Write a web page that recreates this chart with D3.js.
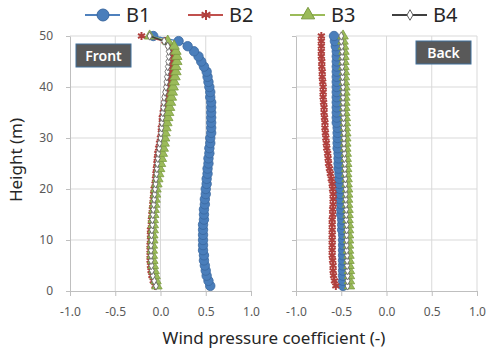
<!DOCTYPE html>
<html>
<head>
<meta charset="utf-8">
<script src="https://cdn.jsdelivr.net/npm/d3@7"></script>
<style>
  body { margin: 0; background: #fff; }
  svg { font-family: "Noto Sans", "Open Sans", sans-serif; }
</style>
</head>
<body>
<svg id="chart" width="486" height="351"></svg>
<script>
// heights (m), one sample per metre
const heights = d3.range(1, 51);

const frontB1 = [0.55,0.53,0.51,0.50,0.49,0.48,0.48,0.47,0.47,0.47,
  0.47,0.47,0.47,0.48,0.48,0.48,0.49,0.49,0.50,0.50,
  0.51,0.51,0.52,0.52,0.53,0.53,0.54,0.54,0.55,0.55,
  0.56,0.56,0.56,0.56,0.56,0.56,0.56,0.55,0.55,0.54,
  0.53,0.52,0.51,0.48,0.45,0.42,0.37,0.30,0.20,-0.08];
const frontB2 = [-0.06,-0.08,-0.095,-0.105,-0.11,-0.115,-0.115,-0.115,-0.115,-0.11,
  -0.11,-0.11,-0.10,-0.10,-0.095,-0.09,-0.085,-0.08,-0.075,-0.07,
  -0.06,-0.055,-0.05,-0.045,-0.04,-0.035,-0.03,-0.02,-0.01,0.00,
  0.01,0.01,0.02,0.02,0.03,0.04,0.05,0.06,0.07,0.08,
  0.09,0.10,0.11,0.12,0.12,0.13,0.12,0.10,0.05,-0.21];
const frontB3 = [-0.04,-0.05,-0.06,-0.07,-0.08,-0.085,-0.09,-0.09,-0.09,-0.085,
  -0.085,-0.08,-0.08,-0.08,-0.075,-0.07,-0.065,-0.06,-0.055,-0.05,
  -0.04,-0.03,-0.02,-0.01,0.00,0.01,0.02,0.03,0.04,0.045,
  0.05,0.06,0.07,0.08,0.09,0.10,0.11,0.12,0.13,0.14,
  0.15,0.16,0.17,0.17,0.18,0.18,0.17,0.15,0.08,-0.12];
const frontB4 = [-0.05,-0.07,-0.085,-0.095,-0.10,-0.105,-0.105,-0.105,-0.105,-0.10,
  -0.10,-0.095,-0.09,-0.09,-0.085,-0.08,-0.075,-0.07,-0.065,-0.06,
  -0.055,-0.05,-0.045,-0.04,-0.035,-0.03,-0.025,-0.015,-0.01,0.00,
  0.005,0.01,0.015,0.02,0.025,0.03,0.035,0.04,0.05,0.06,
  0.065,0.07,0.075,0.08,0.085,0.09,0.09,0.08,0.04,-0.12];

const backB1 = [-0.48,-0.48,-0.48,-0.48,-0.48,-0.48,-0.48,-0.48,-0.48,-0.48,
  -0.48,-0.49,-0.49,-0.49,-0.50,-0.50,-0.50,-0.51,-0.51,-0.51,
  -0.52,-0.52,-0.52,-0.53,-0.53,-0.53,-0.53,-0.54,-0.54,-0.54,
  -0.54,-0.54,-0.55,-0.55,-0.55,-0.55,-0.55,-0.55,-0.55,-0.55,
  -0.55,-0.55,-0.55,-0.55,-0.55,-0.55,-0.55,-0.56,-0.57,-0.58];
const backB2 = [-0.56,-0.575,-0.585,-0.59,-0.59,-0.595,-0.60,-0.60,-0.60,-0.60,
  -0.60,-0.60,-0.60,-0.60,-0.595,-0.595,-0.59,-0.59,-0.59,-0.595,
  -0.60,-0.61,-0.62,-0.63,-0.64,-0.645,-0.65,-0.66,-0.665,-0.67,
  -0.675,-0.68,-0.68,-0.685,-0.69,-0.69,-0.695,-0.70,-0.70,-0.70,
  -0.705,-0.71,-0.71,-0.715,-0.715,-0.72,-0.72,-0.72,-0.72,-0.72];
const backB3 = [-0.41,-0.41,-0.41,-0.41,-0.415,-0.415,-0.415,-0.42,-0.42,-0.42,
  -0.42,-0.42,-0.42,-0.425,-0.425,-0.425,-0.43,-0.43,-0.43,-0.43,
  -0.435,-0.435,-0.44,-0.44,-0.44,-0.445,-0.445,-0.45,-0.45,-0.45,
  -0.45,-0.455,-0.455,-0.455,-0.46,-0.46,-0.46,-0.46,-0.46,-0.46,
  -0.465,-0.465,-0.465,-0.47,-0.47,-0.47,-0.47,-0.475,-0.48,-0.48];
const backB4 = [-0.43,-0.43,-0.43,-0.43,-0.435,-0.435,-0.435,-0.44,-0.44,-0.44,
  -0.44,-0.44,-0.44,-0.445,-0.445,-0.445,-0.45,-0.45,-0.45,-0.45,
  -0.455,-0.455,-0.46,-0.46,-0.46,-0.465,-0.465,-0.47,-0.47,-0.47,
  -0.47,-0.475,-0.475,-0.475,-0.48,-0.48,-0.48,-0.48,-0.48,-0.48,
  -0.485,-0.485,-0.485,-0.49,-0.49,-0.49,-0.49,-0.495,-0.50,-0.50];

const seriesNames = ['B1', 'B2', 'B3', 'B4'];
const xTicks = [-1.0, -0.5, 0.0, 0.5, 1.0];
const yTicks = [0, 10, 20, 30, 40, 50];

const styles = {
  B1: { color: '#4f81bd', symbol: d3.symbolCircle, size: 70, fill: '#4a7ebb', stroke: '#3a68a0' },
  B2: { color: '#c0504d', symbol: d3.symbolAsterisk, size: 45, fill: 'none', stroke: '#b0403d' },
  B3: { color: '#9bbb59', symbol: d3.symbolTriangle, size: 48, fill: '#9bbb59', stroke: '#7a9a40' },
  B4: { color: '#404040', symbol: d3.symbolDiamond, size: 20, fill: '#ffffff', stroke: '#606060' }
};

const panels = [
  { label: 'Front', range: [70, 251], data: [frontB1, frontB2, frontB3, frontB4], box: [76, 44], showY: true },
  { label: 'Back', range: [296, 477], data: [backB1, backB2, backB3, backB4], box: [416, 41], showY: false }
];

const fmt = d => d3.format('.1f')(d).replace('\u2212', '-');

const svg = d3.select('#chart');
const y = d3.scaleLinear().domain([0, 50]).range([291, 36]);

panels.forEach(p => {
  const x = d3.scaleLinear().domain([-1, 1]).range(p.range);
  const g = svg.append('g');

  // grid
  g.selectAll('.vg').data(xTicks.slice(1)).enter().append('line')
    .attr('x1', d => x(d)).attr('x2', d => x(d))
    .attr('y1', y(0)).attr('y2', y(50))
    .attr('stroke', '#d9d9d9').attr('stroke-width', 1);
  g.selectAll('.hg').data(yTicks.slice(1)).enter().append('line')
    .attr('x1', x(-1)).attr('x2', x(1))
    .attr('y1', d => y(d)).attr('y2', d => y(d))
    .attr('stroke', '#d9d9d9').attr('stroke-width', 1);

  // axes
  const xAxis = g.append('g').attr('transform', `translate(0,${y(0)})`)
    .call(d3.axisBottom(x).tickValues(xTicks).tickFormat(fmt).tickSizeInner(5).tickSizeOuter(0).tickPadding(11));
  const yAxis = g.append('g').attr('transform', `translate(${x(-1)},0)`)
    .call(d3.axisLeft(y).tickValues(yTicks).tickSizeInner(4).tickSizeOuter(0).tickPadding(13)
      .tickFormat(p.showY ? d3.format('d') : () => ''));
  [xAxis, yAxis].forEach(a => {
    a.selectAll('path, line').attr('stroke', '#bfbfbf');
    a.selectAll('text').attr('fill', '#595959').style('font-size', '12px')
      .style('font-family', '"Noto Sans", sans-serif');
  });

  // series
  p.data.forEach((vals, i) => {
    const st = styles[seriesNames[i]];
    const pts = heights.map((h, k) => ({ h: h, v: vals[k] }));
    const line = d3.line().x(d => x(d.v)).y(d => y(d.h));
    g.append('path').datum(pts)
      .attr('d', line).attr('fill', 'none')
      .attr('stroke', st.color).attr('stroke-width', 1.5);
    g.selectAll('.m' + i).data(pts).enter().append('path')
      .attr('transform', d => `translate(${x(d.v)},${y(d.h)})`)
      .attr('d', d3.symbol().type(st.symbol).size(st.size))
      .attr('fill', st.fill).attr('stroke', st.stroke)
      .attr('stroke-width', st.fill === 'none' ? 2 : 0.8);
  });

  // panel label box
  const bx = g.append('g').attr('transform', `translate(${p.box[0]},${p.box[1]})`);
  bx.append('rect').attr('width', 55).attr('height', 23)
    .attr('fill', '#595959').attr('stroke', '#41719c').attr('stroke-width', 1);
  bx.append('text').attr('x', 27.5).attr('y', 16.5).attr('text-anchor', 'middle')
    .attr('fill', '#ffffff').style('font-size', '14px').style('font-weight', '600')
    .text(p.label);
});

// axis titles
svg.append('text').attr('transform', 'translate(22,160) rotate(-90)')
  .attr('text-anchor', 'middle').attr('fill', '#262626').style('font-size', '17px')
  .text('Height (m)');
svg.append('text').attr('x', 274).attr('y', 344)
  .attr('text-anchor', 'middle').attr('fill', '#262626').style('font-size', '17px')
  .text('Wind pressure coefficient (-)');

// legend
const legendX = [85, 188, 290, 392];
seriesNames.forEach((name, i) => {
  const st = styles[name];
  const lg = svg.append('g').attr('transform', `translate(${legendX[i]},15)`);
  lg.append('line').attr('x1', 0).attr('x2', 35).attr('y1', 0).attr('y2', 0)
    .attr('stroke', st.color).attr('stroke-width', 2.2);
  lg.append('path').attr('transform', 'translate(18,0)')
    .attr('d', d3.symbol().type(st.symbol).size(st.size * 1.6))
    .attr('fill', st.fill).attr('stroke', st.stroke)
    .attr('stroke-width', st.fill === 'none' ? 2 : 1);
  lg.append('text').attr('x', 41).attr('y', 7).attr('fill', '#262626')
    .style('font-size', '20px').text(name);
});
</script>
</body>
</html>
